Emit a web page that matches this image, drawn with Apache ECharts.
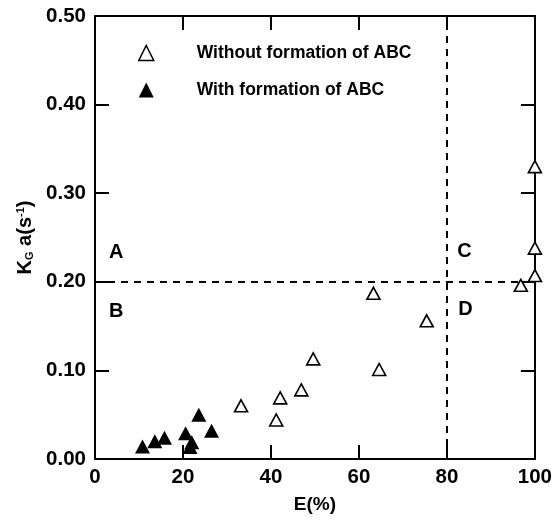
<!DOCTYPE html>
<html>
<head>
<meta charset="utf-8">
<script src="https://cdn.jsdelivr.net/npm/echarts@6/dist/echarts.min.js"></script>
<style>
  html, body { margin: 0; padding: 0; background: #fff; }
  #chart { width: 555px; height: 521px; }
</style>
</head>
<body>
<div id="chart"></div>
<script>
// E (%) and KGa (s^-1) for runs without formation of ABC
const withoutE  = [33.2, 41.2, 42.1, 46.9, 49.6, 63.3, 64.6, 75.4, 96.8, 100, 100, 100];
const withoutKa = [0.060, 0.044, 0.069, 0.078, 0.113, 0.187, 0.101, 0.156, 0.196, 0.207, 0.238, 0.330];

// E (%) and KGa (s^-1) for runs with formation of ABC
const withE  = [10.8, 13.6, 15.8, 20.6, 21.6, 22.0, 23.6, 26.5];
const withKa = [0.014, 0.020, 0.024, 0.029, 0.0135, 0.019, 0.050, 0.032];

// Region boundaries and region labels
const thresholdE = 80;
const thresholdKa = 0.20;
const regionNames = ['A', 'B', 'C', 'D'];
const regionE  = [4.8, 4.8, 84, 84.2];
const regionKa = [0.233, 0.167, 0.234, 0.169];

const xTicks = [0, 20, 40, 60, 80, 100];
const yTicks = [0.00, 0.10, 0.20, 0.30, 0.40, 0.50];

const FONT = 'Liberation Sans, Arial, sans-serif';
const pair = (xs, ys) => xs.map((x, i) => [x, ys[i]]);

const baseX = {
  type: 'value', min: xTicks[0], max: xTicks[xTicks.length - 1], interval: 20,
  axisLine: { show: true, onZero: false, lineStyle: { color: '#000', width: 2 } },
  axisTick: { show: true, inside: true, length: 14, lineStyle: { color: '#000', width: 2 } },
  splitLine: { show: false }
};
const baseY = {
  type: 'value', min: yTicks[0], max: yTicks[yTicks.length - 1], interval: 0.1,
  axisLine: { show: true, onZero: false, lineStyle: { color: '#000', width: 2 } },
  axisTick: { show: true, inside: true, length: 14, lineStyle: { color: '#000', width: 2 } },
  splitLine: { show: false }
};

const chart = echarts.init(document.getElementById('chart'), null, { renderer: 'canvas' });
chart.setOption({
  animation: false,
  backgroundColor: '#fff',
  grid: { left: 95, right: 18, top: 16, bottom: 62 },
  legend: {
    left: 133, top: 39, orient: 'vertical', itemGap: 19,
    itemWidth: 15, itemHeight: 15,
    textStyle: { fontFamily: FONT, fontWeight: 'bold', fontSize: 17.5, color: '#000', padding: [0, 0, 0, 38] },
    data: [
      { name: 'Without formation of ABC', icon: 'triangle',
        itemStyle: { color: '#fff', borderColor: '#000', borderWidth: 1.5 } },
      { name: 'With formation of ABC', icon: 'triangle',
        itemStyle: { color: '#000', borderColor: '#000', borderWidth: 0 } }
    ]
  },
  xAxis: [
    Object.assign({}, baseX, {
      position: 'bottom',
      name: 'E(%)', nameLocation: 'middle', nameGap: 36,
      nameTextStyle: { fontFamily: FONT, fontWeight: 'bold', fontSize: 19, color: '#000' },
      axisLabel: { fontFamily: FONT, fontWeight: 'bold', fontSize: 20.5, color: '#000', margin: 8 }
    }),
    Object.assign({}, baseX, { position: 'top', axisLabel: { show: false } })
  ],
  yAxis: [
    Object.assign({}, baseY, {
      position: 'left',
      name: '{k|K}{sub|G}{k| a(s}{sup|-1}{k|)}', nameLocation: 'middle', nameGap: 60,
      nameTextStyle: {
        fontFamily: FONT, fontWeight: 'bold', fontSize: 20, color: '#000',
        rich: {
          k: { fontFamily: FONT, fontWeight: 'bold', fontSize: 20, color: '#000' },
          sub: { fontFamily: FONT, fontWeight: 'bold', fontSize: 11, color: '#000', verticalAlign: 'bottom', padding: [8, 0, 0, 0] },
          sup: { fontFamily: FONT, fontWeight: 'bold', fontSize: 11, color: '#000', verticalAlign: 'top', padding: [0, 0, 8, 0] }
        }
      },
      axisLabel: { fontFamily: FONT, fontWeight: 'bold', fontSize: 20.5, color: '#000', margin: 9,
                   formatter: v => v.toFixed(2) }
    }),
    Object.assign({}, baseY, { position: 'right', axisLabel: { show: false } })
  ],
  series: [
    {
      name: 'Without formation of ABC', type: 'scatter',
      symbol: 'triangle', symbolSize: [13, 12],
      itemStyle: { color: '#fff', borderColor: '#000', borderWidth: 1.6, opacity: 1 },
      data: pair(withoutE, withoutKa), z: 5,
      markLine: {
        silent: true, symbol: 'none', label: { show: false },
        lineStyle: { color: '#000', type: [7, 6], width: 2, opacity: 1 },
        data: [{ xAxis: thresholdE }, { yAxis: thresholdKa }]
      }
    },
    {
      name: 'With formation of ABC', type: 'scatter',
      symbol: 'triangle', symbolSize: [15, 14],
      itemStyle: { color: '#000', opacity: 1 },
      data: pair(withE, withKa), z: 5
    },
    {
      name: 'regions', type: 'scatter', symbolSize: 0, silent: true,
      itemStyle: { opacity: 1, color: '#000' },
      data: regionNames.map((n, i) => ({ value: [regionE[i], regionKa[i]], name: n })),
      label: { show: true, position: 'inside', formatter: p => p.name,
               fontFamily: FONT, fontWeight: 'bold', fontSize: 20, color: '#000', opacity: 1 }
    }
  ]
});
</script>
</body>
</html>
